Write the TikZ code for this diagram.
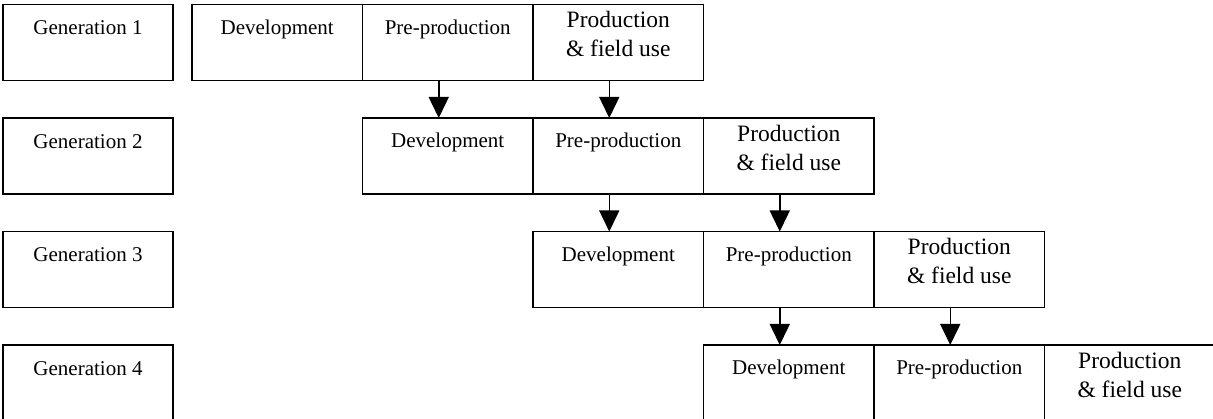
\documentclass[tikz,border=0pt]{standalone}
\usepackage{fontspec}
\setmainfont{Liberation Serif}
\usetikzlibrary{arrows.meta}
\begin{document}
\begin{tikzpicture}[x=1pt,y=-1pt,
  box/.style={draw,line width=1.8pt,minimum width=170.5pt,minimum height=76pt,
    inner sep=0pt,outer sep=0pt,anchor=north west},
  lbl/.style={anchor=base,inner sep=0pt,font=\fontsize{21}{25}\selectfont},
  big/.style={anchor=base,inner sep=0pt,align=center,font=\fontsize{23.5}{29}\selectfont},
  arr/.style={line width=1.5pt,-{Triangle[width=20pt,length=21pt]}}]
\useasboundingbox (0,0) rectangle (1213,419);
\clip (0,0) rectangle (1213,419);
\foreach \r/\t in {1/4.5,2/118,3/231.5,4/345}{
  \pgfmathsetmacro\x{192+(\r-1)*170.5}
  \node[box,minimum width=170pt] (gen\r) at (3,\t) {};
  \node[lbl] (gen\r t) at ([yshift=-30.5pt]gen\r.north) {Generation \r};
  \node[box] (dev\r) at (\x,\t) {};
  \node[box] (pre\r) at (dev\r.north east) {};
  \node[box] (prod\r) at (pre\r.north east) {};
  \node[lbl] (dev\r t) at ([yshift=-30pt]dev\r.north) {Development};
  \node[lbl] (pre\r t) at ([yshift=-30pt]pre\r.north) {Pre-production};
  \node[big] (prod\r t) at ([yshift=-52.5pt]prod\r.north) {Production\\\& field use};
}
\foreach \r/\s in {1/2,2/3,3/4}{
  \draw[arr] ([xshift=-9pt]pre\r.south) -- ([xshift=-9pt]dev\s.north);
  \draw[arr] ([xshift=-9pt]prod\r.south) -- ([xshift=-9pt]pre\s.north);
}
\end{tikzpicture}
\end{document}
